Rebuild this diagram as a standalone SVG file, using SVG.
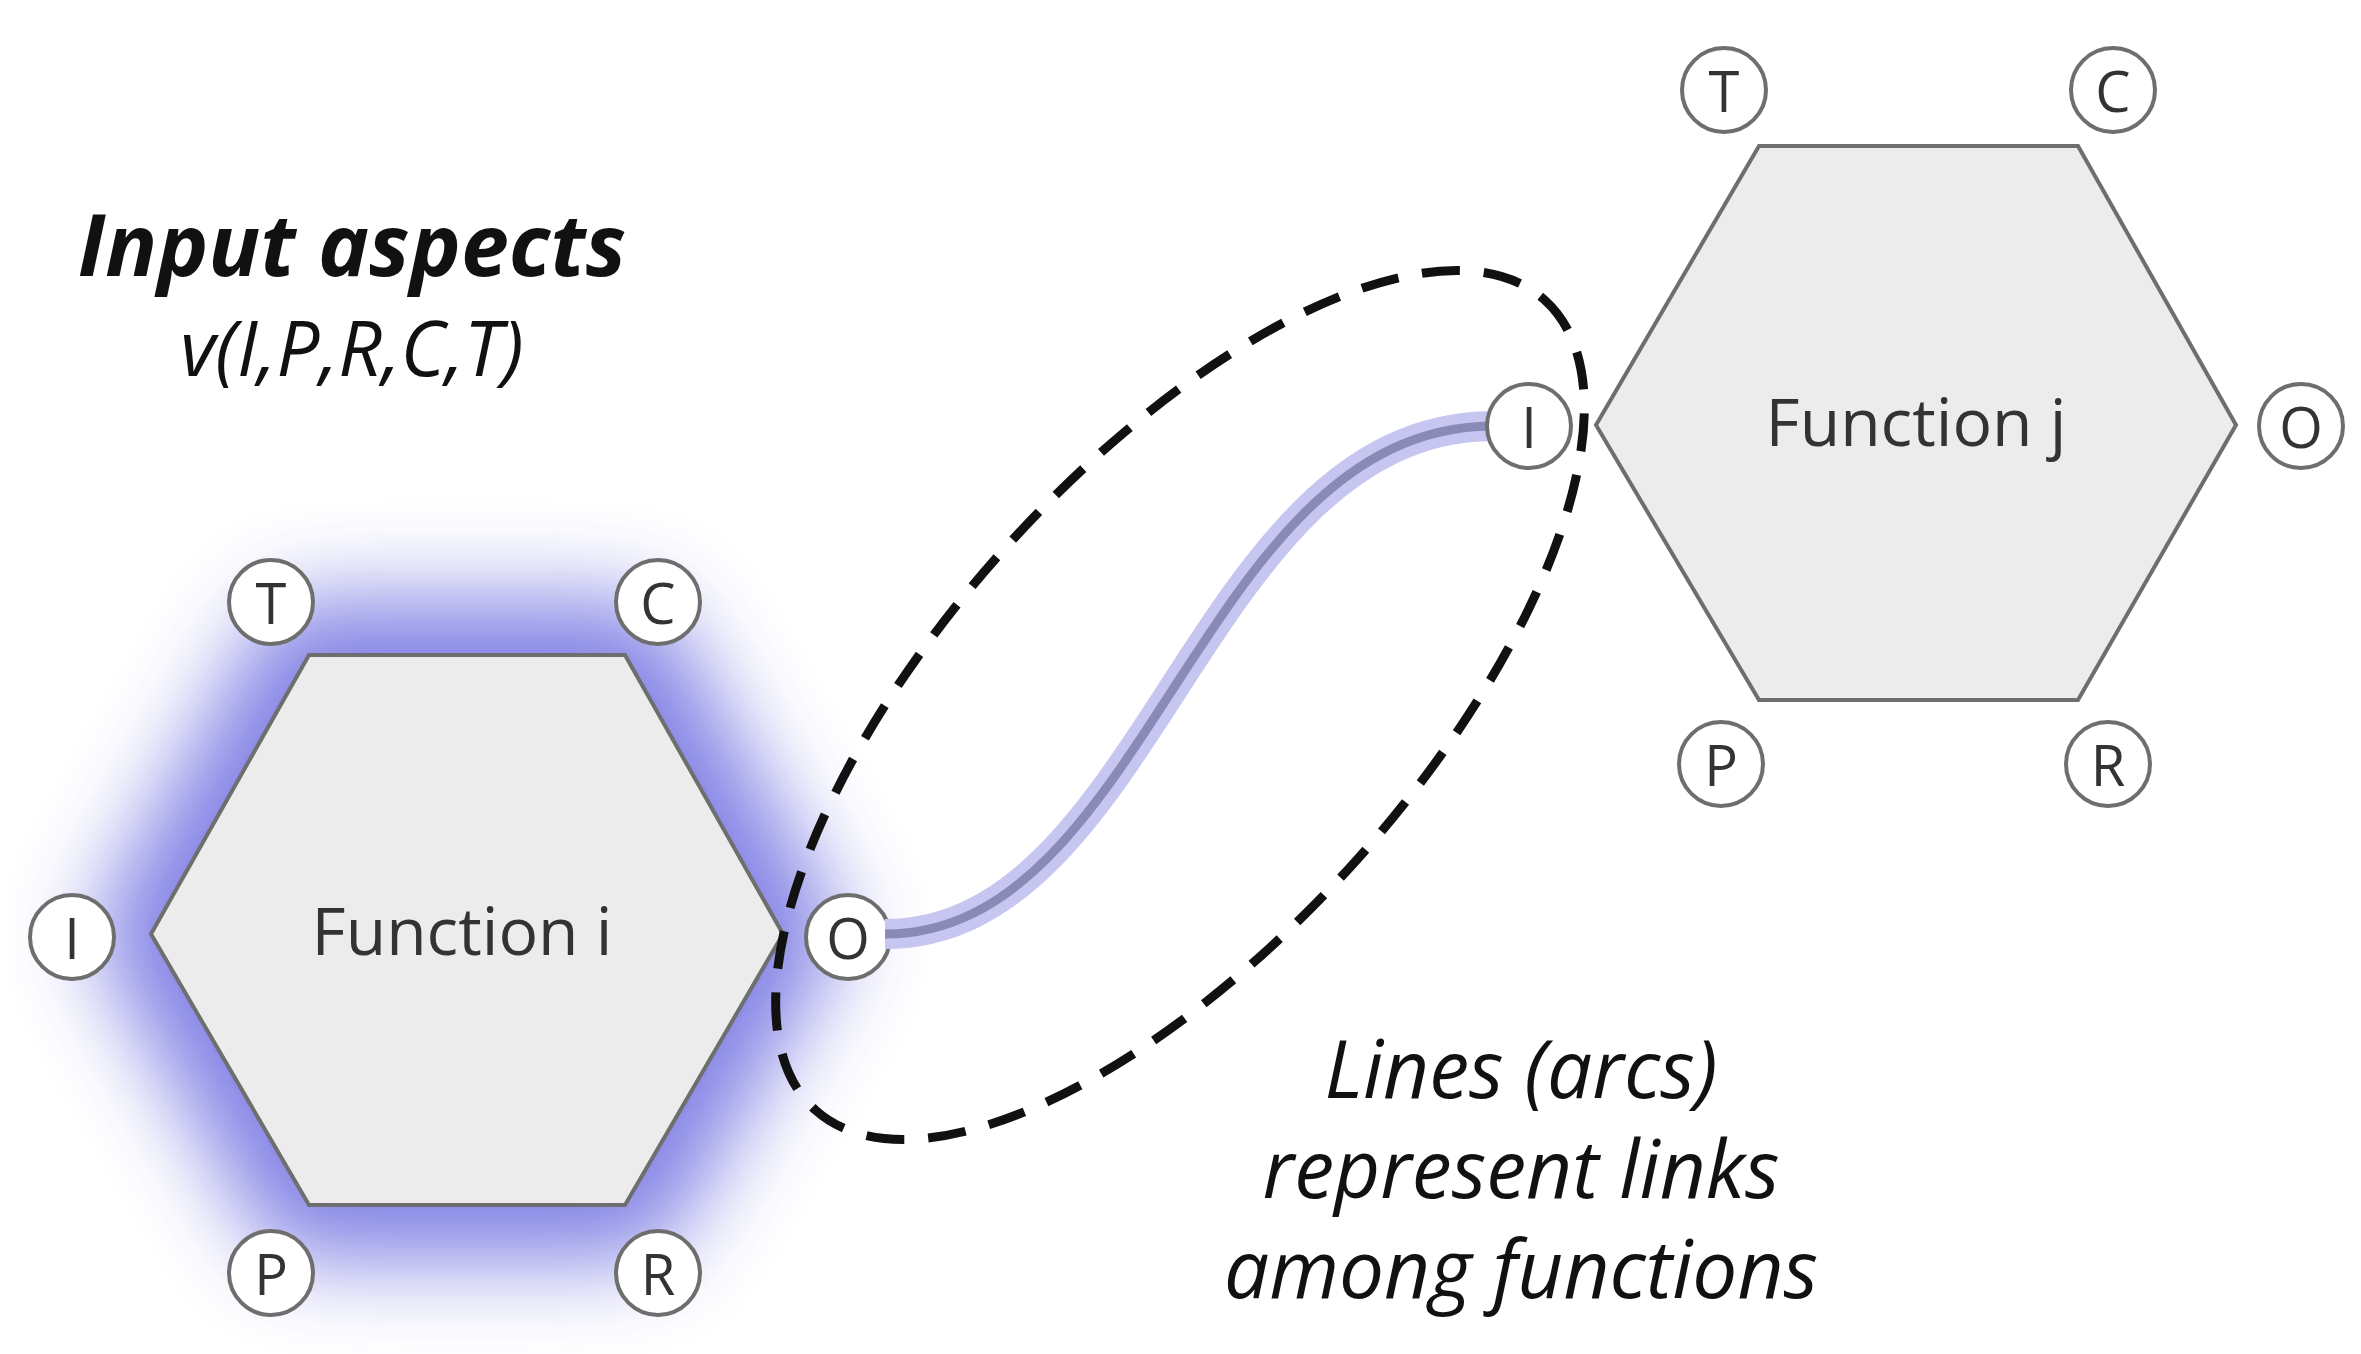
<svg xmlns="http://www.w3.org/2000/svg" width="2361" height="1354" viewBox="0 0 2361 1354">
<style>
.hex{fill:#ececec;stroke:#6e6e6e;stroke-width:4}
.port{fill:#fff;stroke:#6e6e6e;stroke-width:4}
.pt{font-family:"Open Sans","DejaVu Sans",sans-serif;font-size:56px;fill:#333;text-anchor:middle;dominant-baseline:central}
.fn{font-family:"Open Sans","DejaVu Sans",sans-serif;font-size:66px;fill:#333;text-anchor:middle;dominant-baseline:central}
.it{font-family:"Open Sans","DejaVu Sans",sans-serif;font-style:italic;fill:#111;text-anchor:middle}
</style>
<defs>
<filter id="glow" x="-50%" y="-50%" width="200%" height="200%"><feGaussianBlur stdDeviation="45"/></filter>
</defs>
<rect width="2361" height="1354" fill="#fff"/>
<g id="node-i">
<polygon points="151,934 309,655 625,655 783,934 625,1205 309,1205" fill="#6a6ae0" stroke="#6a6ae0" stroke-width="110" stroke-linejoin="round" filter="url(#glow)" opacity="0.85"/>
<polygon class="hex" points="151,934 309,655 625,655 783,934 625,1205 309,1205"/>
<text class="fn" x="462" y="929">Function i</text>
<circle class="port" cx="271" cy="602" r="42"/><text class="pt" x="271" y="602">T</text>
<circle class="port" cx="658" cy="602" r="42"/><text class="pt" x="658" y="602">C</text>
<circle class="port" cx="72" cy="937" r="42"/><text class="pt" x="72" y="937">I</text>
<circle class="port" cx="848" cy="937" r="42"/><text class="pt" x="848" y="937">O</text>
<circle class="port" cx="271" cy="1273" r="42"/><text class="pt" x="271" y="1273">P</text>
<circle class="port" cx="658" cy="1273" r="42"/><text class="pt" x="658" y="1273">R</text>
</g>
<g id="node-j">
<polygon class="hex" points="1596,425 1759,146 2078,146 2236,425 2078,700 1759,700"/>
<text class="fn" x="1916" y="420">Function j</text>
<circle class="port" cx="1724" cy="90" r="42"/><text class="pt" x="1724" y="90">T</text>
<circle class="port" cx="2113" cy="90" r="42"/><text class="pt" x="2113" y="90">C</text>
<circle class="port" cx="2301" cy="426" r="42"/><text class="pt" x="2301" y="426">O</text>
<circle class="port" cx="1721" cy="764" r="42"/><text class="pt" x="1721" y="764">P</text>
<circle class="port" cx="2108" cy="764" r="42"/><text class="pt" x="2108" y="764">R</text>
</g>
<g id="connectors">
<path d="M885,934 C1150,934 1200,428 1492,426" fill="none" stroke="#c6c6f0" stroke-width="30"/>
<path d="M885,934 C1150,934 1200,428 1492,426" fill="none" stroke="#8a8ab8" stroke-width="9"/>
</g>
<g id="node-j-input">
<circle class="port" cx="1529" cy="426" r="42"/><text class="pt" x="1529" y="426">I</text>
</g>
<ellipse cx="1180" cy="705" rx="545" ry="235" transform="rotate(-48 1180 705)" fill="none" stroke="#111" stroke-width="9" stroke-dasharray="38,24"/>
<g id="labels">
<text class="it" x="352" y="276" font-size="86" font-weight="bold">Input aspects</text>
<text class="it" x="352" y="376" font-size="76">v(I,P,R,C,T)</text>
<text class="it" x="1521" y="1098" font-size="80">Lines (arcs)</text>
<text class="it" x="1521" y="1198" font-size="80">represent links</text>
<text class="it" x="1521" y="1298" font-size="80">among functions</text>
</g>
</svg>
